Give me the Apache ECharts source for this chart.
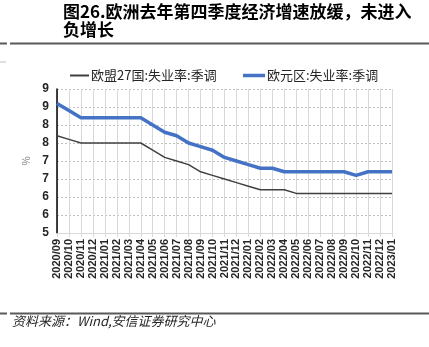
<!DOCTYPE html>
<html>
<head>
<meta charset="utf-8">
<script src="https://cdn.jsdelivr.net/npm/echarts@6/dist/echarts.min.js"></script>
<style>
html,body{margin:0;padding:0;background:#fff;}
#c{width:429px;height:347px;}
</style>
</head>
<body>
<div id="c"></div>
<script>
var categories = ['2020/09','2020/10','2020/11','2020/12','2021/01','2021/02','2021/03','2021/04','2021/05','2021/06','2021/07','2021/08','2021/09','2021/10','2021/11','2021/12','2022/01','2022/02','2022/03','2022/04','2022/05','2022/06','2022/07','2022/08','2022/09','2022/10','2022/11','2022/12','2023/01'];
var eu27 = [7.7,7.6,7.5,7.5,7.5,7.5,7.5,7.5,7.3,7.1,7.0,6.9,6.7,6.6,6.5,6.4,6.3,6.2,6.2,6.2,6.1,6.1,6.1,6.1,6.1,6.1,6.1,6.1,6.1];
var euroArea = [8.6,8.4,8.2,8.2,8.2,8.2,8.2,8.2,8.0,7.8,7.7,7.5,7.4,7.3,7.1,7.0,6.9,6.8,6.8,6.7,6.7,6.7,6.7,6.7,6.7,6.6,6.7,6.7,6.7];
var yTickLabels = ['5','6','6','7','7','8','8','9','9'];
var seriesNames = ['欧盟27国:失业率:季调','欧元区:失业率:季调'];
var titleLine1 = '图26.欧洲去年第四季度经济增速放缓，未进入';
var titleLine2 = '负增长';
var sourceText = '资料来源：Wind,安信证券研究中心';

var chart = echarts.init(document.getElementById('c'), null, {renderer:'canvas'});
var cjk = '"Noto Sans CJK SC", "Noto Sans", sans-serif';
var legendText = {fontSize:13,color:'#262626',fontFamily:cjk,padding:[0,0,0,-3]};
var option = {
  animation:false,
  backgroundColor:'#fff',
  textStyle:{fontFamily:cjk},
  grid:{left:57,right:37,top:89,bottom:114,containLabel:false},
  legend:[
    {left:70, top:69, padding:0, itemWidth:19, itemHeight:2, icon:'rect',
     textStyle:legendText, data:[seriesNames[0]]},
    {left:243, top:69, padding:0, itemWidth:22, itemHeight:3.5, icon:'rect',
     textStyle:legendText, data:[seriesNames[1]]}
  ],
  xAxis:{
    type:'category', data:categories, boundaryGap:false,
    axisLine:{show:true,lineStyle:{color:'#d9d9d9',width:1}},
    axisTick:{show:true,length:4,lineStyle:{color:'#d9d9d9'}},
    splitLine:{show:true,lineStyle:{color:'#d9d9d9',width:1,type:'solid'}},
    axisLabel:{rotate:90,fontSize:11,fontWeight:'bold',color:'#262626',margin:6,interval:0,fontFamily:'"Liberation Sans", Arial, sans-serif'}
  },
  yAxis:{
    type:'value', min:5, max:9, interval:0.5,
    name:'%', nameLocation:'middle', nameGap:24, nameRotate:90,
    nameTextStyle:{color:'#7f7f7f',fontSize:10},
    axisLine:{show:true,lineStyle:{color:'#000',width:1.5}},
    axisTick:{show:false},
    splitLine:{show:true,lineStyle:{color:'#bfbfbf',width:1,type:[2,2]}},
    axisLabel:{fontSize:12,fontWeight:'bold',color:'#262626',margin:8,fontFamily:'"Liberation Sans", Arial, sans-serif',
      formatter:function(v){ return yTickLabels[Math.round((v-5)/0.5)]; }}
  },
  series:[
    {name:seriesNames[0], type:'line', data:eu27, symbol:'none', z:2,
     lineStyle:{color:'#404040',width:1.5}, itemStyle:{color:'#404040'}},
    {name:seriesNames[1], type:'line', data:euroArea, symbol:'none', z:3,
     lineStyle:{color:'#4472C4',width:3.5}, itemStyle:{color:'#4472C4'}}
  ],
  graphic:[
    {type:'text', left:63, top:3, style:{text:titleLine1, font:'bold 17px '+cjk, fill:'#000'}},
    {type:'text', left:63, top:21, style:{text:titleLine2, font:'bold 17px '+cjk, fill:'#000'}},
    {type:'line', shape:{x1:0,y1:43.5,x2:7,y2:43.5}, style:{stroke:'#595959',lineWidth:2}},
    {type:'line', shape:{x1:10,y1:43.5,x2:429,y2:43.5}, style:{stroke:'#595959',lineWidth:2}},
    {type:'line', shape:{x1:0,y1:62,x2:6,y2:62}, style:{stroke:'#bfbfbf',lineWidth:1}},
    {type:'line', shape:{x1:0,y1:313.5,x2:7,y2:313.5}, style:{stroke:'#595959',lineWidth:2}},
    {type:'line', shape:{x1:10,y1:313.5,x2:429,y2:313.5}, style:{stroke:'#595959',lineWidth:2}},
    {type:'text', left:12, top:315, style:{text:sourceText, font:'italic 13px '+cjk, fill:'#262626'}}
  ]
};
chart.setOption(option);
</script>
</body>
</html>
